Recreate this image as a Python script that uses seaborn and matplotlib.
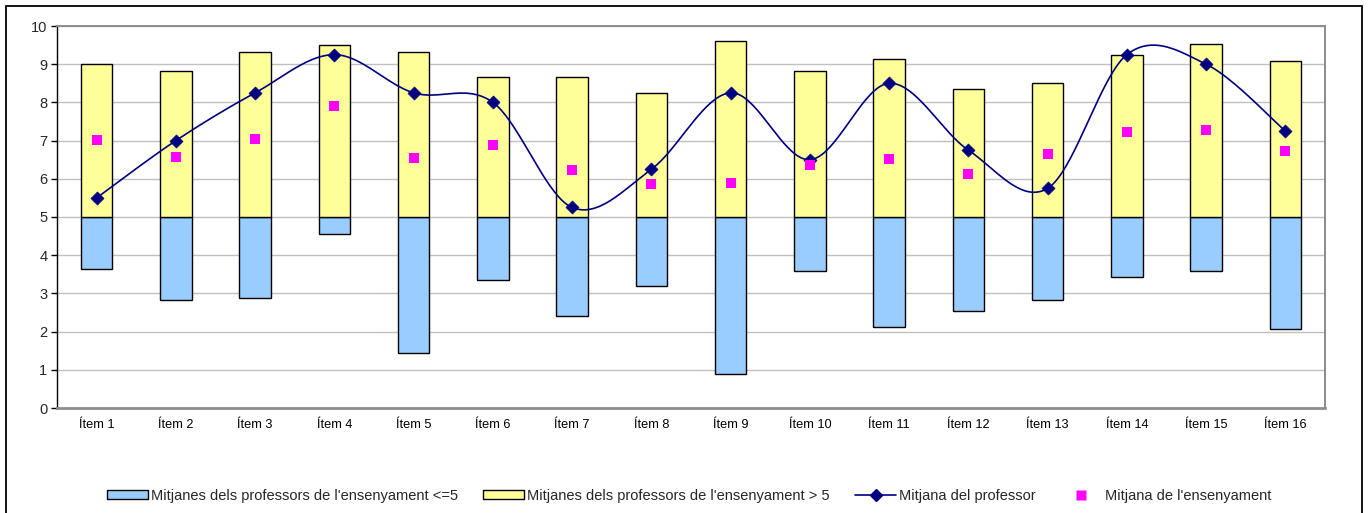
import numpy as np
import matplotlib
matplotlib.use("Agg")
import matplotlib.pyplot as plt
from matplotlib.patches import Patch, Rectangle
from matplotlib.lines import Line2D
import seaborn as sns

# Item labels and per-item values
items = ["Ítem 1", "Ítem 2", "Ítem 3", "Ítem 4", "Ítem 5", "Ítem 6", "Ítem 7", "Ítem 8",
         "Ítem 9", "Ítem 10", "Ítem 11", "Ítem 12", "Ítem 13", "Ítem 14", "Ítem 15", "Ítem 16"]
low_means = [3.63, 2.83, 2.87, 4.55, 1.45, 3.36, 2.40, 3.20,
             0.88, 3.59, 2.12, 2.53, 2.83, 3.44, 3.59, 2.07]
high_means = [9.00, 8.83, 9.33, 9.50, 9.33, 8.67, 8.67, 8.25,
              9.62, 8.83, 9.14, 8.34, 8.51, 9.25, 9.53, 9.09]
teacher_mean = [5.5, 7.0, 8.25, 9.25, 8.25, 8.0, 5.25, 6.25,
                8.25, 6.5, 8.5, 6.75, 5.75, 9.25, 9.0, 7.25]
school_mean = [7.02, 6.56, 7.04, 7.90, 6.54, 6.89, 6.24, 5.86,
               5.89, 6.37, 6.53, 6.13, 6.64, 7.23, 7.28, 6.74]
threshold = 5
y_ticks = [0, 1, 2, 3, 4, 5, 6, 7, 8, 9, 10]
legend_labels = ["Mitjanes dels professors de l'ensenyament <=5",
                 "Mitjanes dels professors de l'ensenyament > 5",
                 "Mitjana del professor",
                 "Mitjana de l'ensenyament"]

BLUE = "#99CCFF"
YELLOW = "#FFFF99"
NAVY = "#000080"
MAGENTA = "#FF00FF"
GRID = "#C0C0C0"
FRAME = "#8C8C8C"


def smooth_curve(x, y, n=40):
    """Cubic Bezier smoothing through every point (Catmull-Rom style handles)."""
    P = np.column_stack([np.asarray(x, float), np.asarray(y, float)])
    Pp = np.vstack([P[:1], P, P[-1:]])
    t = np.linspace(0, 1, n)[:, None]
    out = []
    for i in range(len(P) - 1):
        p0, p3 = Pp[i + 1], Pp[i + 2]
        c1 = p0 + (Pp[i + 2] - Pp[i]) / 6.0
        c2 = p3 - (Pp[i + 3] - Pp[i + 1]) / 6.0
        seg = ((1 - t) ** 3) * p0 + 3 * ((1 - t) ** 2) * t * c1 + 3 * (1 - t) * t ** 2 * c2 + t ** 3 * p3
        out.append(seg if i == 0 else seg[1:])
    out = np.vstack(out)
    return out[:, 0], out[:, 1]


sns.set_style("white")
plt.rcParams["font.family"] = ["Liberation Sans", "DejaVu Sans"]

W, H = 1371, 513
fig = plt.figure(figsize=(W / 100, H / 100), dpi=100)
ax = fig.add_axes([57 / W, (H - 408) / H, (1325 - 57) / W, (408 - 26) / H])
ax.set_axisbelow(True)

pos = np.arange(len(items))
low_arr = np.asarray(low_means)
high_arr = np.asarray(high_means)

# Bars hang from the threshold line: downwards for <=5, upwards for >5
sns.barplot(x=pos, y=low_arr - threshold, bottom=threshold, native_scale=True,
            width=0.4, color=BLUE, saturation=1, edgecolor="black", linewidth=1.0,
            errorbar=None, ax=ax, zorder=2)
sns.barplot(x=pos, y=high_arr - threshold, bottom=threshold, native_scale=True,
            width=0.4, color=YELLOW, saturation=1, edgecolor="black", linewidth=1.0,
            errorbar=None, ax=ax, zorder=2)

# Teacher mean: smoothed line with diamond markers
cx, cy = smooth_curve(pos, teacher_mean)
sns.lineplot(x=cx, y=cy, sort=False, estimator=None, color=NAVY, linewidth=1.2,
             ax=ax, zorder=3)
sns.scatterplot(x=pos, y=teacher_mean, marker="D", s=44, color=NAVY,
                edgecolor=NAVY, linewidth=0.5, ax=ax, zorder=4)

# School mean: magenta squares
sns.scatterplot(x=pos, y=school_mean, marker="s", s=52, color=MAGENTA,
                edgecolor="none", linewidth=0, ax=ax, zorder=5)

ax.set_xlim(-0.5, len(items) - 0.5)
ax.set_ylim(0, 10)
ax.set_xticks(pos)
ax.set_xticklabels(items, fontsize=9.2)
ax.set_xticks(np.arange(len(items) + 1) - 0.5, minor=True)
ax.set_yticks(y_ticks)
ax.set_yticklabels([str(v) for v in y_ticks], fontsize=10.5)
ax.set_xlabel("")
ax.set_ylabel("")

ax.yaxis.grid(True, color=GRID, linewidth=1.0)
ax.xaxis.grid(False)

ax.tick_params(axis="x", which="major", length=0, pad=8, colors="black")
ax.tick_params(axis="x", which="minor", length=4, width=1.5, color=FRAME, direction="out")
ax.tick_params(axis="y", which="major", length=4, width=1, color="black",
               direction="out", pad=3, left=True)

for side in ("top", "right"):
    ax.spines[side].set_visible(True)
    ax.spines[side].set_color(FRAME)
    ax.spines[side].set_linewidth(1.4)
ax.spines["bottom"].set_color(FRAME)
ax.spines["bottom"].set_linewidth(2.0)
ax.spines["left"].set_color("black")
ax.spines["left"].set_linewidth(1.0)

handles = [
    Patch(facecolor=BLUE, edgecolor="black", linewidth=1.0),
    Patch(facecolor=YELLOW, edgecolor="black", linewidth=1.0),
    Line2D([], [], color=NAVY, linewidth=1.2, marker="D", markersize=6,
           markerfacecolor=NAVY, markeredgecolor=NAVY),
    Line2D([], [], linestyle="none", marker="s", markersize=7,
           markerfacecolor=MAGENTA, markeredgecolor="none"),
]
fig.legend(handles, legend_labels, loc="center", bbox_to_anchor=(689 / W, 1 - 496 / H),
           ncol=4, frameon=False, fontsize=10.5, handlelength=2.8, handleheight=0.55,
           handletextpad=0.2, columnspacing=1.75, borderaxespad=0, borderpad=0)

# Outer chart frame (its bottom edge runs off the image)
fig.patches.append(Rectangle((6 / W, -0.05), (1362 - 6) / W, 1.05 - 6 / H,
                             transform=fig.transFigure, fill=False,
                             edgecolor="black", linewidth=1.3))

fig.savefig("out.png", dpi=100)
